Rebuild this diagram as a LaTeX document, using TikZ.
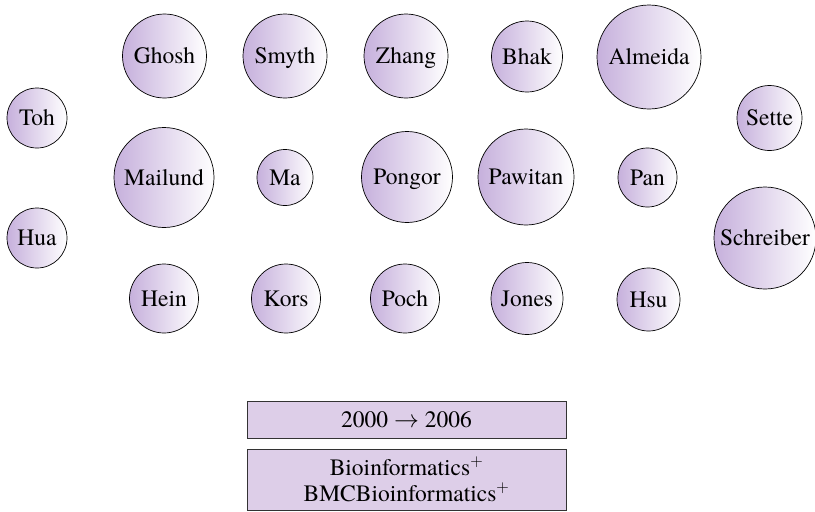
\documentclass[tikz,border=0pt]{standalone}
\usepackage{fontspec}
\setmainfont{texgyretermes-regular.otf}
\begin{document}
\begin{tikzpicture}[x=1pt,y=-1pt,
  author/.style={circle, draw=black, line width=0.7pt, inner sep=0pt,
    left color=authorpurple, right color=white, shading angle=90,
    text height=15pt, text depth=0pt,
    font=\rmfamily\fontsize{23.5}{26}\selectfont},
  infobox/.style={draw=black!80, line width=0.8pt, fill=boxpurple,
    inner sep=0pt, align=center, font=\rmfamily\fontsize{23.5}{25.5}\selectfont}]
\definecolor{authorpurple}{RGB}{198,176,220}
\definecolor{boxpurple}{RGB}{221,206,232}
\useasboundingbox (0,0) rectangle (815,512);
% top row
\node[author, minimum size=84pt]  (ghosh)   at (164.5,56) {Ghosh};
\node[author, minimum size=84pt]  (smyth)   at (285,56) {Smyth};
\node[author, minimum size=84pt]  (zhang)   at (406,56) {Zhang};
\node[author, minimum size=71pt]  (bhak)    at (527,56.5) {Bhak};
\node[author, minimum size=104pt] (almeida) at (649,57) {Almeida};
% outer columns
\node[author, minimum size=60pt]  (toh)     at (37,118) {Toh};
\node[author, minimum size=60pt]  (hua)     at (37,238) {Hua};
\node[author, minimum size=65pt]  (sette)   at (769.5,118) {Sette};
\node[author, minimum size=102pt] (schreiber) at (765,238) {Schreiber};
% middle row
\node[author, minimum size=100pt] (mailund) at (164,177.5) {Mailund};
\node[author, minimum size=56pt]  (ma)      at (285,177.5) {Ma};
\node[author, minimum size=91pt]  (pongor)  at (407,177) {Pongor};
\node[author, minimum size=96pt]  (pawitan) at (526,177) {Pawitan};
\node[author, minimum size=59pt]  (pan)     at (647.5,177.5) {Pan};
% bottom row
\node[author, minimum size=69pt]  (hein)    at (164,298.5) {Hein};
\node[author, minimum size=69pt]  (kors)    at (286,298.5) {Kors};
\node[author, minimum size=69pt]  (poch)    at (405,298.5) {Poch};
\node[author, minimum size=72pt]  (jones)   at (527,298.5) {Jones};
\node[author, minimum size=63pt]  (hsu)     at (648.5,299.5) {Hsu};
% legend boxes
\node[infobox, minimum width=319pt, minimum height=37pt] (years) at (406.5,419.5)
  {2000 $\rightarrow$ 2006};
\node[infobox, minimum width=319pt, minimum height=61pt] (journals) at (406.5,479.5)
  {Bioinformatics$^{+}$\\BMCBioinformatics$^{+}$};
\end{tikzpicture}
\end{document}
